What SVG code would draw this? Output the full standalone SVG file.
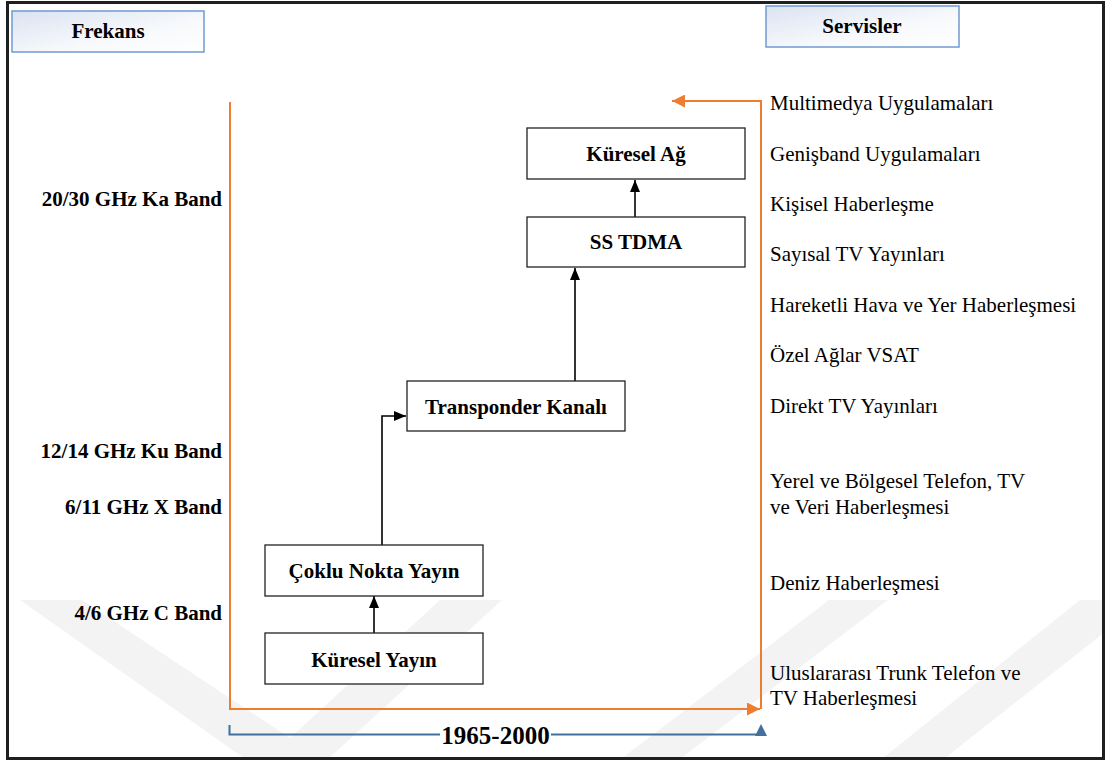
<svg xmlns="http://www.w3.org/2000/svg" width="1113" height="762" viewBox="0 0 1113 762">
  <defs>
    <linearGradient id="hdrFill" x1="0" y1="0" x2="1" y2="1">
      <stop offset="0" stop-color="#dbe3f1"/>
      <stop offset="0.6" stop-color="#f7f9fc"/>
      <stop offset="1" stop-color="#ffffff"/>
    </linearGradient>
    <marker id="blackArrow" viewBox="0 0 12 10" refX="12" refY="5" markerWidth="12" markerHeight="10" markerUnits="userSpaceOnUse" orient="auto">
      <path d="M0,0 L12,5 L0,10 Z" fill="#000"/>
    </marker>
    <marker id="orangeArrow" viewBox="0 0 10 10" refX="10" refY="5" markerWidth="6.5" markerHeight="6.5" orient="auto">
      <path d="M0,0 L10,5 L0,10 Z" fill="#ED7D31"/>
    </marker>
    <clipPath id="frameClip">
      <rect x="8" y="3" width="1095" height="755"/>
    </clipPath>
  </defs>
  <style>
    .box { fill: #ffffff; stroke: #222; stroke-width: 1.3; }
    .hdr { fill: url(#hdrFill); stroke: #6f9bd0; stroke-width: 1.5; }
    .bold { font-family: "Liberation Serif", "Times New Roman", serif; font-weight: bold; font-size: 21px; fill: #000; }
    .reg { font-family: "Liberation Serif", "Times New Roman", serif; font-size: 21px; fill: #000; }
    .conn { stroke: #000; stroke-width: 1.6; fill: none; marker-end: url(#blackArrow); }
    .orange { stroke: #ED7D31; stroke-width: 2; fill: none; marker-end: url(#orangeArrow); }
    .wm { fill: #f3f3f3; }
  </style>

  <rect x="0" y="0" width="1113" height="762" fill="#ffffff"/>

  <!-- watermark -->
  <g id="watermark" clip-path="url(#frameClip)">
    <polygon class="wm" points="20,600 82,600 290,738 440,600 502,600 292,792"/>
    <polygon class="wm" points="617,762 676,762 888,600 829,600"/>
    <polygon class="wm" points="878,762 940,762 1110,628 1110,600 1080,600"/>
  </g>

  <!-- outer frame -->
  <rect x="7.5" y="2.5" width="1096" height="756" fill="none" stroke="#1f1f1f" stroke-width="3"/>

  <!-- headers -->
  <g id="hdr-frekans">
    <rect class="hdr" x="12" y="11" width="192" height="41"/>
    <text class="bold" x="108" y="38" text-anchor="middle">Frekans</text>
  </g>
  <g id="hdr-servisler">
    <rect class="hdr" x="766" y="6" width="193" height="41"/>
    <text class="bold" x="862" y="33" text-anchor="middle">Servisler</text>
  </g>

  <!-- orange frame arrows, connectors and timeline -->
  <g id="connectors">
    <path class="orange" d="M230,102 L230,709 L760,709"/>
    <path class="orange" d="M761,709 L761,101 L672,101"/>

    <path class="conn" d="M374,633 L374,596"/>
    <path class="conn" d="M382,545 L382,416 L406,416"/>
    <path class="conn" d="M575,381 L575,268"/>
    <path class="conn" d="M635,217 L635,180"/>

    <path d="M229.5,725 L229.5,734.5 L761,734.5" fill="none" stroke="#41719C" stroke-width="2"/>
    <polygon points="761,724 755,736 767,736" fill="#41719C"/>
  </g>

  <g id="timeline-label">
    <rect x="440" y="723" width="111" height="26" fill="#ffffff"/>
    <text class="bold" x="495.5" y="744" text-anchor="middle" style="font-size:25px">1965-2000</text>
  </g>

  <!-- nodes -->
  <g id="node-kuresel-ag">
    <rect class="box" x="527" y="128" width="218" height="51"/>
    <text class="bold" x="636" y="161" text-anchor="middle">Küresel Ağ</text>
  </g>
  <g id="node-ss-tdma">
    <rect class="box" x="527" y="217" width="218" height="50"/>
    <text class="bold" x="636" y="249" text-anchor="middle">SS TDMA</text>
  </g>
  <g id="node-transponder">
    <rect class="box" x="407" y="381" width="218" height="50"/>
    <text class="bold" x="516" y="414" text-anchor="middle">Transponder Kanalı</text>
  </g>
  <g id="node-coklu">
    <rect class="box" x="265" y="545" width="218" height="51"/>
    <text class="bold" x="374" y="578" text-anchor="middle">Çoklu Nokta Yayın</text>
  </g>
  <g id="node-kuresel-yayin">
    <rect class="box" x="265" y="633" width="218" height="51"/>
    <text class="bold" x="374" y="667" text-anchor="middle">Küresel Yayın</text>
  </g>

  <!-- frequency labels -->
  <g id="freq-labels">
    <text class="bold" x="222" y="206" text-anchor="end">20/30 GHz Ka Band</text>
    <text class="bold" x="222" y="458" text-anchor="end">12/14 GHz Ku Band</text>
    <text class="bold" x="222" y="514" text-anchor="end">6/11 GHz X Band</text>
    <text class="bold" x="222" y="620" text-anchor="end">4/6 GHz C Band</text>
  </g>

  <!-- service labels -->
  <g id="service-labels">
    <text class="reg" x="770" y="110">Multimedya Uygulamaları</text>
    <text class="reg" x="770" y="161">Genişband Uygulamaları</text>
    <text class="reg" x="770" y="211">Kişisel Haberleşme</text>
    <text class="reg" x="770" y="261">Sayısal TV Yayınları</text>
    <text class="reg" x="770" y="312">Hareketli Hava ve Yer Haberleşmesi</text>
    <text class="reg" x="770" y="362">Özel Ağlar VSAT</text>
    <text class="reg" x="770" y="413">Direkt TV Yayınları</text>
    <text class="reg" x="770" y="488">Yerel ve Bölgesel Telefon, TV</text>
    <text class="reg" x="770" y="514">ve Veri Haberleşmesi</text>
    <text class="reg" x="770" y="590">Deniz Haberleşmesi</text>
    <text class="reg" x="770" y="680">Uluslararası Trunk Telefon ve</text>
    <text class="reg" x="770" y="705">TV Haberleşmesi</text>
  </g>
</svg>
